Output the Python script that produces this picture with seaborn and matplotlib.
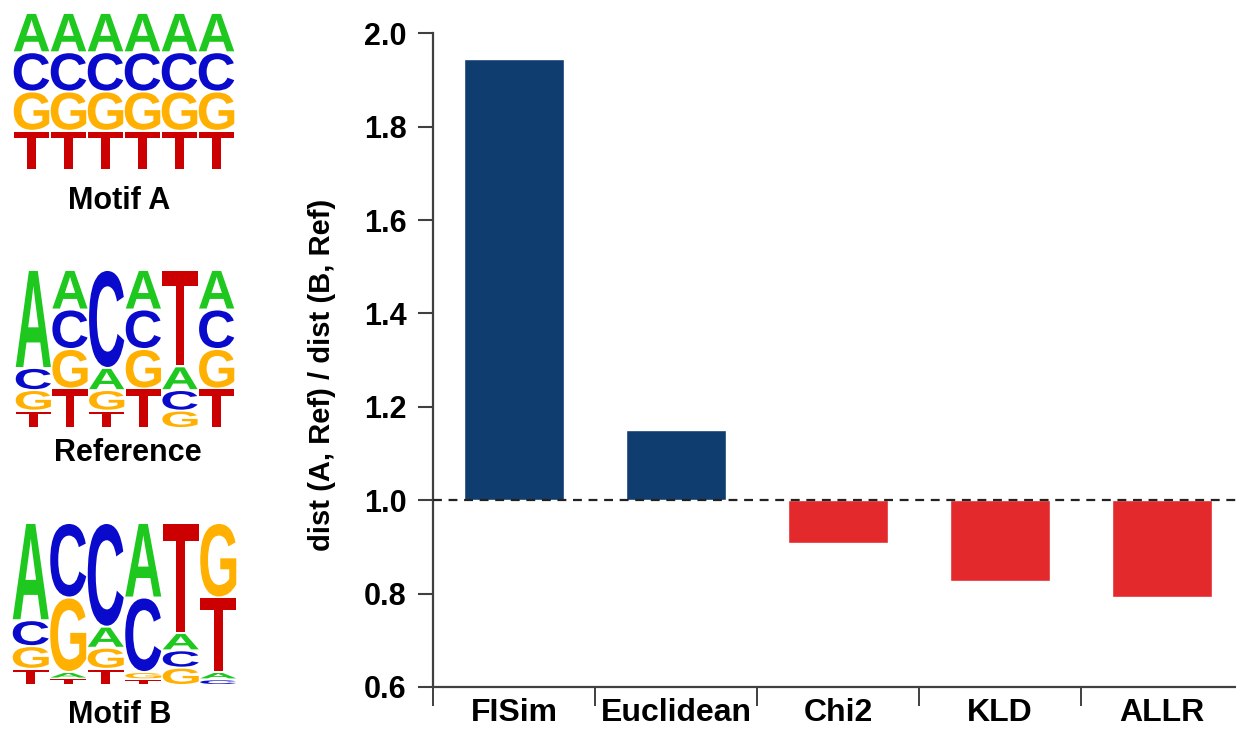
import numpy as np
import pandas as pd
import matplotlib
matplotlib.use("Agg")
import matplotlib.pyplot as plt
import seaborn as sns
from matplotlib.textpath import TextPath
from matplotlib.patches import PathPatch
from matplotlib.font_manager import FontProperties
from matplotlib.transforms import Affine2D
from matplotlib.ticker import FormatStrFormatter

# ==========================================
# 1. 数据
# ==========================================
methods = ['FISim', 'Euclidean', 'Chi2', 'KLD', 'ALLR']
ratios = [1.945, 1.150, 0.908, 0.828, 0.792]   # dist(A,Ref) / dist(B,Ref)
y_ticks = [0.6, 0.8, 1.0, 1.2, 1.4, 1.6, 1.8, 2.0]

bases = ['A', 'C', 'G', 'T']
# 每个 motif：行 = A, C, G, T；列 = 位置 1..6
motif_a = [[0.25, 0.25, 0.25, 0.25, 0.25, 0.25],
           [0.25, 0.25, 0.25, 0.25, 0.25, 0.25],
           [0.25, 0.25, 0.25, 0.25, 0.25, 0.25],
           [0.25, 0.25, 0.25, 0.25, 0.25, 0.25]]
motif_ref = [[0.62, 0.25, 0.14, 0.25, 0.15, 0.25],
             [0.14, 0.25, 0.62, 0.25, 0.13, 0.25],
             [0.13, 0.25, 0.13, 0.25, 0.11, 0.25],
             [0.11, 0.25, 0.11, 0.25, 0.61, 0.25]]
motif_b = [[0.60, 0.04, 0.13, 0.46, 0.107, 0.045],
           [0.16, 0.46, 0.64, 0.46, 0.107, 0.035],
           [0.14, 0.46, 0.13, 0.045, 0.107, 0.46],
           [0.10, 0.04, 0.10, 0.035, 0.679, 0.46]]
motif_names = ['Motif A', 'Reference', 'Motif B']

BASE_COLORS = {'A': '#1ec81e', 'C': '#0a0acc', 'G': '#ffb000', 'T': '#cc0000'}
BLUE = '#0f3d6f'
RED = '#e3292b'
SPINE = '#404040'

sns.set_theme(style="ticks")
plt.rcParams['font.family'] = ['Liberation Sans', 'DejaVu Sans']
plt.rcParams['font.weight'] = 'bold'
plt.rcParams['text.color'] = 'black'
plt.rcParams['xtick.labelcolor'] = 'black'
plt.rcParams['ytick.labelcolor'] = 'black'

W, H = 1236, 733
fig = plt.figure(figsize=(W / 100, H / 100), dpi=100)

# ==========================================
# 2. 右侧柱状图
# ==========================================
ax = fig.add_axes([433 / W, (H - 687) / H, 810 / W, 653.7 / H])
df = pd.DataFrame({'method': methods, 'ratio': ratios})
df['delta'] = df['ratio'] - 1.0
df['side'] = np.where(df['delta'] > 0, 'up', 'down')
sns.barplot(data=df, x='method', y='delta', hue='side',
            palette={'up': BLUE, 'down': RED}, bottom=1.0, width=0.62,
            dodge=False, legend=False, saturation=1, ax=ax)

ax.axhline(1.0, color='#222222', lw=1.6, ls=(0, (4, 3)), zorder=3)
ax.set_xlim(-0.5, 4.5)
ax.set_ylim(0.6, 2.0)
ax.set_yticks(y_ticks)
ax.yaxis.set_major_formatter(FormatStrFormatter('%.1f'))
ax.set_xticks(range(len(methods)))
ax.set_xticklabels(methods)
ax.set_xticks(np.arange(-0.5, len(methods) + 0.5, 1), minor=True)
ax.tick_params(axis='x', which='major', length=0, pad=8, labelsize=23, labelcolor='black')
ax.tick_params(axis='x', which='minor', length=14, width=1.4, color=SPINE, direction='out')
ax.tick_params(axis='y', length=11, width=1.5, color=SPINE, pad=8, labelsize=22, labelcolor='black')
for lab in ax.get_xticklabels() + ax.get_yticklabels():
    lab.set_fontweight('bold')
ax.set_xlabel('')
ax.set_ylabel('')
for s in ['top', 'right']:
    ax.spines[s].set_visible(False)
for s in ['left', 'bottom']:
    ax.spines[s].set_color(SPINE)
    ax.spines[s].set_linewidth(1.6)

fig.text(322 / W, 1 - 375 / H, 'dist (A, Ref) / dist (B, Ref)', rotation=90,
         ha='center', va='center', fontsize=21, fontweight='bold', color='black')

# ==========================================
# 3. 左侧序列 logo
# ==========================================
LOGO_FONT = FontProperties(family='Liberation Sans', weight='bold')


def draw_letter(lax, letter, x, y, w, h, color):
    tp = TextPath((0, 0), letter, size=1, prop=LOGO_FONT)
    bb = tp.get_extents()
    tr = (Affine2D().translate(-bb.x0, -bb.y0)
          .scale(w / bb.width, h / bb.height).translate(x, y))
    lax.add_patch(PathPatch(tr.transform_path(tp), fc=color, ec='none'))


def draw_logo(box, freqs, name, label_xy):
    lax = fig.add_axes(box)
    lax.set_xlim(0, 6)
    lax.set_ylim(0, 1)
    lax.axis('off')
    freqs = np.array(freqs)
    for col in range(freqs.shape[1]):
        f = freqs[:, col]
        order = sorted(range(4), key=lambda i: (f[i], -i))
        y0 = 0.0
        for i in order:
            h = f[i] / f.sum()
            draw_letter(lax, bases[i], col + 0.02, y0 + 0.006, 0.96, h - 0.012,
                        BASE_COLORS[bases[i]])
            y0 += h
    fig.text(label_xy[0] / W, 1 - label_xy[1] / H, name, ha='center', va='center',
             fontsize=22, fontweight='bold', color='black')


draw_logo([13 / W, (H - 170) / H, 222 / W, 157 / H], motif_a, motif_names[0], (119, 201))
draw_logo([15 / W, (H - 428) / H, 220 / W, 158 / H], motif_ref, motif_names[1], (128, 453))
draw_logo([12 / W, (H - 685) / H, 225 / W, 162 / H], motif_b, motif_names[2], (120, 715))

fig.savefig('out.png', dpi=100)
plt.close(fig)
